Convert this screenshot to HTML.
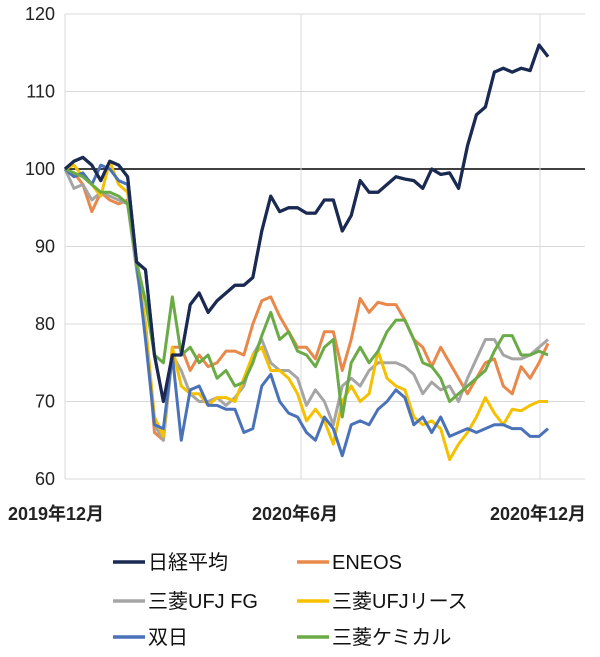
<!DOCTYPE html>
<html><head><meta charset="utf-8"><style>
body{margin:0;background:#fff;}
svg{display:block;font-family:"Liberation Sans","Noto Sans CJK JP",sans-serif;}
</style></head><body>
<svg id="chart" width="600" height="657"></svg>
<script>
const yTicks=[60,70,80,90,100,110,120];
const xLabels=["2019年12月","2020年6月","2020年12月"];
const seriesNames=["日経平均","ENEOS","三菱UFJ FG","三菱UFJリース","双日","三菱ケミカル"];
const nikkei=[100,101,101.5,100.5,98.5,101,100.5,99,88,87,76,70,76,76,82.5,84,81.5,83,84,85,85,86,92,96.5,94.5,95,95,94.3,94.3,96,96,92,94,98.5,97,97,98,99,98.7,98.5,97.5,100,99.3,99.5,97.5,103,107,108,112.5,113,112.5,113,112.7,116,114.5];
const eneos=[100,99.5,98,94.5,97,96,95.5,96,88,80,66,65,77,77,74,76,74.5,75,76.5,76.5,76,80,83,83.5,81,79,77,77,75.5,79,79,74,78,83.3,81.5,82.8,82.5,82.5,80.5,78,77,74.5,77,75,73,71,73,75,75.5,72,71,74.5,73,75,77.5];
const mufg=[100,97.5,98,96,97,96.5,96,95.5,87,80,67,65,76,74,71,70,70,70.5,69.5,70.5,72,76,78,75,74,74,73,69.5,71.5,70,67,72,73,72,74,75,75,75,74.5,73.5,71,72.5,71.5,72,70,73,75.5,78,78,76,75.5,75.5,76,77,78];
const lease=[100,100.5,99,98,96.5,101,98,97,88,80,68,65.5,77,72,71,71,69.5,70.5,70.5,70,73,76,77,74,74,73,71,67.5,69,67.5,64.5,70,72,70,71,76.5,73,72,71.5,68,67,67.5,66.5,62.5,64.5,66,68,70.5,68.5,67,69,68.8,69.5,70,70];
const sojitz=[100,99,99.5,98,100.5,100,98.5,98,88,78,67,66.5,76,65,71.5,72,69.5,69.5,69,69,66,66.5,72,73.5,70,68.5,68,66,65,68,66.5,63,67,67.5,67,69,70,71.5,70.5,67,68,66,68,65.5,66,66.5,66,66.5,67,67,66.5,66.5,65.5,65.5,66.5];
const chem=[100,99.5,99,98,97,97,96.5,95.5,88,83,76,75,83.5,76,77,75,76,73,74,72,72.5,75,78.5,81.5,78,79,76.5,76,74.5,77,78,68,75,77,75,76.5,79,80.5,80.5,78,75,74.5,73,70,71,72,73,74,76.5,78.5,78.5,76,76,76.5,76];
const allSeries=[nikkei,eneos,mufg,lease,sojitz,chem];
const colors=["#1a2a52","#e8884a","#a5a5a5","#f5c000","#4a72b8","#6aab46"];
const NS="http://www.w3.org/2000/svg";
const svgEl=document.getElementById('chart');
const L=65,R=585,T=14,B=479;
const yS=v=>B-(v-60)/60*(B-T);
const xS=i=>L+i*(548-L)/(nikkei.length-1);
function mk(t,a){const e=document.createElementNS(NS,t);for(const k in a)e.setAttribute(k,a[k]);svgEl.appendChild(e);return e;}
yTicks.forEach(v=>{
  const g=mk('line',{x1:L,x2:R,y1:yS(v),y2:yS(v),stroke:v===100?'#000':'#d9d9d9','stroke-width':v===100?1.5:1});
  
  
  const t=mk('text',{x:55,y:yS(v)+6,'text-anchor':'end','font-size':18,fill:'#222'});
  t.textContent=v;
  
  
});
[L,301,540].forEach(xv=>{
  const g=mk('line',{x1:xv,x2:xv,y1:T,y2:B,stroke:'#d9d9d9','stroke-width':1});
  
  
});
const xlx=[56,295,538];
xLabels.forEach((s,i)=>{
  const t=mk('text',{x:xlx[i],y:520,'text-anchor':'middle','font-size':18,'font-weight':'bold',fill:'#222'});
  t.textContent=s;
  
  
});
allSeries.forEach((d,si)=>{
  const p=mk('polyline',{points:d.map((v,i)=>xS(i)+','+yS(v)).join(' '),fill:'none',stroke:colors[si],'stroke-width':3,'stroke-linejoin':'round'});
  
  
});
const nikkeiTop=mk('polyline',{points:nikkei.map((v,i)=>xS(i)+','+yS(v)).join(' '),fill:'none',stroke:colors[0],'stroke-width':3.2,'stroke-linejoin':'round'});


const lgx=[113,297],lgy=[562,601,637];
seriesNames.forEach((s,i)=>{
  const cx=lgx[i%2],cy=lgy[Math.floor(i/2)];
  const l=mk('line',{x1:cx,x2:cx+32,y1:cy,y2:cy,stroke:colors[i],'stroke-width':3.5});
  
  
  const t=mk('text',{x:cx+35,y:cy+7,'font-size':20,fill:'#111'});
  t.textContent=s;
  
  
});
</script>
</body></html>
